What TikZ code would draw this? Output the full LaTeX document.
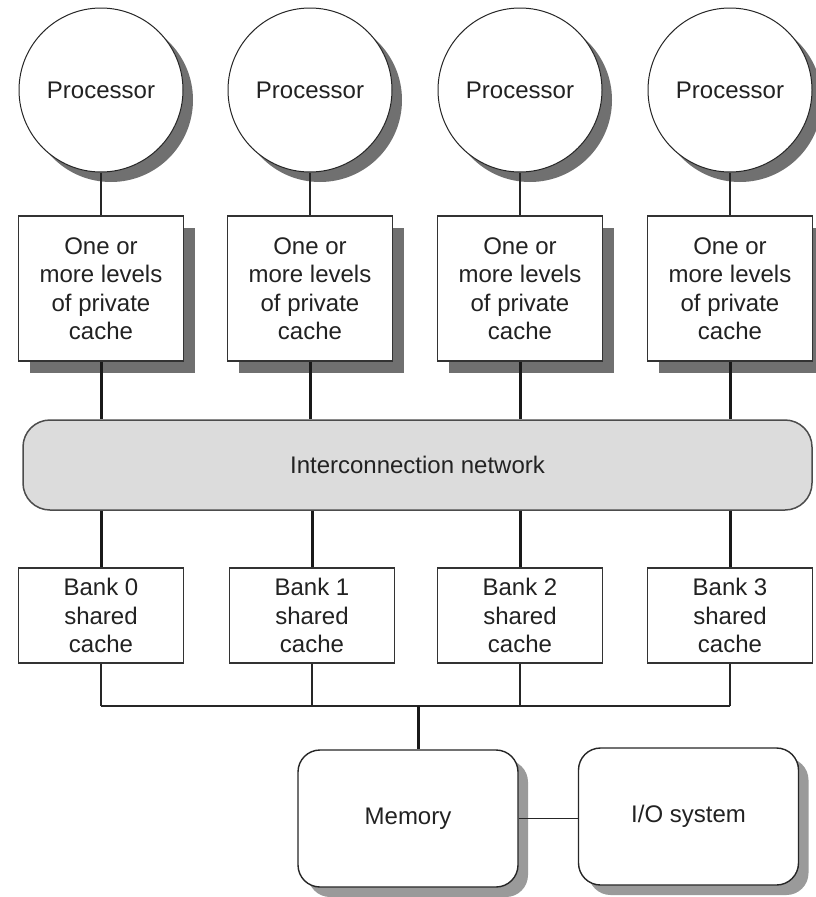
\documentclass[tikz,border=0pt]{standalone}
\usepackage{fontspec}
\setmainfont{Liberation Sans}
\usetikzlibrary{shadows}
\definecolor{txt}{HTML}{222222}
\definecolor{shd}{HTML}{707070}
\definecolor{shdl}{HTML}{9A9A9A}
\definecolor{netfill}{HTML}{DCDCDC}
\begin{document}
\begin{tikzpicture}[x=1pt,y=-1pt,
  every node/.style={font=\fontsize{24}{28.5}\selectfont, text=txt, align=center, inner sep=0pt},
  proc/.style={circle, draw=black!85, line width=1pt, fill=white, minimum size=164pt,
    drop shadow={shadow xshift=10pt, shadow yshift=-10pt, opacity=1, fill=shd}},
  cachebox/.style={rectangle, draw=black!80, line width=1.8pt, fill=white,
    minimum width=165pt, minimum height=145pt,
    drop shadow={shadow xshift=11pt, shadow yshift=-12pt, opacity=1, fill=shd}},
  bankbox/.style={rectangle, draw=black!80, line width=1.6pt, fill=white,
    minimum width=165pt, minimum height=95pt},
  netbox/.style={rectangle, rounded corners=27pt, draw=black!70, line width=1.5pt, fill=netfill,
    minimum width=789pt, minimum height=90pt},
  membox/.style={rectangle, rounded corners=22pt, draw=black!85, line width=1.4pt, fill=white,
    minimum width=220pt, minimum height=137pt,
    drop shadow={shadow xshift=10pt, shadow yshift=-10pt, opacity=1, fill=shdl}},
  thinline/.style={draw=black!85, line width=1.4pt},
  thickline/.style={draw=black!90, line width=3pt}
]
\useasboundingbox (0,0) rectangle (816,897);
% processors
\node[proc] (p1) at (101,90) {Processor};
\node[proc] (p2) at (310,90) {Processor};
\node[proc] (p3) at (520,90) {Processor};
\node[proc] (p4) at (730,90) {Processor};
% private caches
\node[cachebox] (c1) at (101,288.5) {One or\\more levels\\of private\\cache};
\node[cachebox] (c2) at (310,288.5) {One or\\more levels\\of private\\cache};
\node[cachebox] (c3) at (520,288.5) {One or\\more levels\\of private\\cache};
\node[cachebox] (c4) at (730,288.5) {One or\\more levels\\of private\\cache};
% network
\node[netbox] (net) at (417.5,465) {Interconnection network};
% banks
\node[bankbox] (b1) at (101,615.5) {Bank 0\\shared\\cache};
\node[bankbox] (b2) at (312,615.5) {Bank 1\\shared\\cache};
\node[bankbox] (b3) at (520,615.5) {Bank 2\\shared\\cache};
\node[bankbox] (b4) at (730,615.5) {Bank 3\\shared\\cache};
% memory and I/O
\node[membox] (mem) at (408,818.5) {Memory};
\node[membox] (io) at (688.5,816.5) {I/O system};
\coordinate (busM) at (418,706);
% connectors
\foreach \i in {1,2,3,4}{
  \draw[thinline, line width=1.1pt] (p\i.south) -- (c\i.north);
  \draw[thickline] (c\i.south) -- (c\i.south |- net.north);
  \draw[thickline] (b\i.north |- net.south) -- (b\i.north);
  \draw[thinline] (b\i.south) -- (b\i.south |- busM);
}
\draw[thinline] (b1.south |- busM) -- (b4.south |- busM);
\draw[thickline] (busM) -- (busM |- mem.north);
\draw[thinline] (mem.east) -- (mem.east -| io.west);
\end{tikzpicture}
\end{document}
